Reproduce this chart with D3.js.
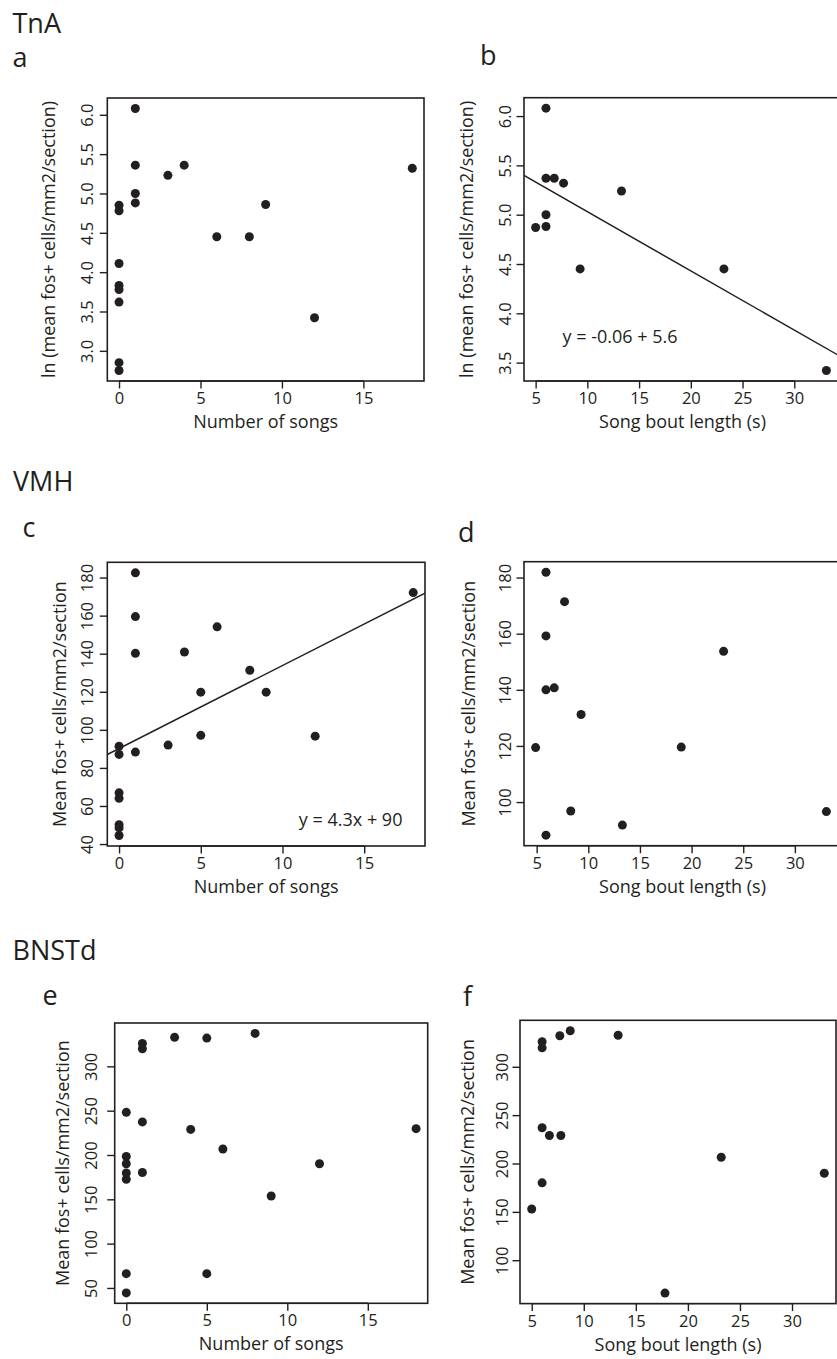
<!DOCTYPE html>
<html>
<head>
<meta charset="utf-8">
<script src="https://cdn.jsdelivr.net/npm/d3@7"></script>
<style>
  body { margin: 0; background: #fff; }
  text { font-family: "Open Sans", sans-serif; fill: #231f20; }
</style>
</head>
<body>
<div id="chart-area"></div>
<script>
// TnA
var tnaSongs = [0, 0, 0, 0, 0, 0, 0, 0, 1, 1, 1, 1, 3, 4, 6, 8, 9, 12, 18];
var tnaLnSongs = [4.85, 4.78, 4.11, 3.83, 3.78, 3.62, 2.85, 2.75, 6.08, 5.36, 5.00, 4.88, 5.23, 5.36, 4.45, 4.45, 4.86, 3.42, 5.32];
var tnaBout = [6, 6, 6.8, 7.7, 13.3, 6, 6, 5, 9.3, 23.2, 33.1];
var tnaLnBout = [6.08, 5.37, 5.37, 5.32, 5.24, 5.00, 4.88, 4.87, 4.45, 4.45, 3.42];
var tnaFit = { intercept: 5.63, slope: -0.06 };

// VMH
var vmhSongs = [0, 0, 0, 0, 0, 0, 0, 1, 1, 1, 1, 3, 4, 5, 5, 6, 8, 9, 12, 18];
var vmhFosSongs = [91.4, 87.1, 66.9, 64.0, 50.2, 48.5, 44.5, 182.5, 159.5, 140.2, 88.3, 92.0, 140.9, 119.8, 97.1, 154.1, 131.3, 119.8, 96.7, 172.1];
var vmhBout = [5.9, 7.7, 5.9, 5.9, 6.7, 9.3, 4.9, 19, 23.1, 8.3, 13.3, 5.9, 33.05];
var vmhFosBout = [181.9, 171.4, 159.2, 140.0, 140.7, 131.2, 119.4, 119.6, 153.7, 96.8, 91.8, 88.2, 96.6];
var vmhFit = { intercept: 90.2, slope: 4.36 };

// BNSTd
var bnstSongs = [0, 0, 0, 0, 0, 0, 0, 1, 1, 1, 1, 3, 4, 5, 5, 6, 8, 9, 12, 18];
var bnstFosSongs = [248.1, 198.4, 190.1, 179.7, 172.5, 66.1, 44.4, 325.9, 319.9, 237.3, 180.3, 332.7, 228.9, 331.9, 66.1, 206.8, 337.2, 153.8, 190.1, 229.7];
var bnstBout = [6, 6, 7.7, 8.7, 13.3, 6, 6.7, 7.8, 23.2, 33.1, 6, 5, 17.8];
var bnstFosBout = [325.9, 319.6, 332.1, 337.2, 332.6, 236.9, 229.0, 229.0, 206.5, 189.9, 180.0, 152.9, 66.0];

var songTicks = [0, 5, 10, 15];
var boutTicks = [5, 10, 15, 20, 25, 30];
var tnaTicks = [3.0, 3.5, 4.0, 4.5, 5.0, 5.5, 6.0];
var tnaBoutTicks = [3.5, 4.0, 4.5, 5.0, 5.5, 6.0];
var vmhTicks = [40, 60, 80, 100, 120, 140, 160, 180];
var vmhBoutTicks = [100, 120, 140, 160, 180];
var bnstTicks = [50, 100, 150, 200, 250, 300];
var bnstBoutTicks = [100, 150, 200, 250, 300];

var ink = "#231f20";

var svg = d3.select("#chart-area").append("svg")
  .attr("width", 837)
  .attr("height", 1359);

// section headings and panel letters
var heads = [
  { t: "TnA", x: 12.5, y: 32.5 }, { t: "a", x: 12.5, y: 66.5 }, { t: "b", x: 480, y: 65 },
  { t: "VMH", x: 13, y: 490.5 }, { t: "c", x: 22.5, y: 536.5 }, { t: "d", x: 458, y: 541.5 },
  { t: "BNSTd", x: 12.5, y: 960 }, { t: "e", x: 42.5, y: 1005 }, { t: "f", x: 463, y: 1006 }
];
svg.selectAll("text.head").data(heads).enter().append("text")
  .attr("class", "head")
  .attr("x", function(d) { return d.x; })
  .attr("y", function(d) { return d.y; })
  .attr("font-size", "27px")
  .text(function(d) { return d.t; });

// R style axis range: data extent padded 4%
function rRange(v) {
  var e = d3.extent(v), p = (e[1] - e[0]) * 0.04;
  return [e[0] - p, e[1] + p];
}

function panel(o) {
  var x = d3.scaleLinear().domain(rRange(o.xs)).range([o.l, o.r]);
  var y = d3.scaleLinear().domain(rRange(o.ys)).range([o.b, o.t]);
  var g = svg.append("g");

  var clipId = "clip" + o.id;
  g.append("clipPath").attr("id", clipId)
    .append("rect")
    .attr("x", o.l).attr("y", o.t)
    .attr("width", o.r - o.l).attr("height", o.b - o.t);

  // x axis
  var xa = g.append("g")
    .attr("transform", "translate(0," + o.b + ")")
    .call(d3.axisBottom(x).tickValues(o.xTicks).tickSize(7.5).tickSizeOuter(0).tickPadding(4)
      .tickFormat(d3.format("d")));
  xa.select(".domain").remove();
  xa.selectAll("line").attr("stroke", ink).attr("stroke-width", 1.4);
  xa.selectAll("text")
    .attr("font-size", "16.5px")
    .attr("font-family", "Open Sans, sans-serif")
    .attr("fill", ink)
    .attr("dy", null)
    .attr("y", 23);
  g.append("line")
    .attr("x1", x(o.xTicks[0])).attr("x2", x(o.xTicks[o.xTicks.length - 1]))
    .attr("y1", o.b).attr("y2", o.b)
    .attr("stroke", ink).attr("stroke-width", 1.4);

  // y axis
  var ya = g.append("g")
    .attr("transform", "translate(" + o.l + ",0)")
    .call(d3.axisLeft(y).tickValues(o.yTicks).tickSize(7.5).tickSizeOuter(0)
      .tickFormat(o.yFmt));
  ya.select(".domain").remove();
  ya.selectAll("line").attr("stroke", ink).attr("stroke-width", 1.4);
  ya.selectAll("text")
    .attr("font-size", "16.5px")
    .attr("font-family", "Open Sans, sans-serif")
    .attr("fill", ink)
    .attr("text-anchor", "middle")
    .attr("dy", null)
    .attr("x", null)
    .attr("transform", "translate(" + (-o.tickOff) + ",0) rotate(-90)");

  // box
  g.append("rect")
    .attr("x", o.l).attr("y", o.t)
    .attr("width", o.r - o.l).attr("height", o.b - o.t)
    .attr("fill", "none")
    .attr("stroke", ink).attr("stroke-width", 1.6);

  // fit line
  if (o.fit) {
    var d0 = x.domain();
    g.append("line")
      .attr("clip-path", "url(#" + clipId + ")")
      .attr("x1", x(d0[0])).attr("y1", y(o.fit.intercept + o.fit.slope * d0[0]))
      .attr("x2", x(d0[1])).attr("y2", y(o.fit.intercept + o.fit.slope * d0[1]))
      .attr("stroke", ink).attr("stroke-width", 1.5);
    g.append("text")
      .attr("x", x(o.eqAt[0])).attr("y", y(o.eqAt[1]))
      .attr("font-size", "18px")
      .text(o.eq);
  }

  // points
  g.selectAll("circle").data(o.xs).enter().append("circle")
    .attr("cx", function(d) { return x(d); })
    .attr("cy", function(d, i) { return y(o.ys[i]); })
    .attr("r", 4.5)
    .attr("fill", ink);

  // axis titles
  g.append("text")
    .attr("x", (o.l + Math.min(o.r, 837)) / 2 + (o.xtShift || 0))
    .attr("y", o.b + 47)
    .attr("text-anchor", "middle")
    .attr("font-size", "18px")
    .text(o.xTitle);
  g.append("text")
    .attr("transform", "translate(" + (o.l - o.titleOff) + "," + ((o.t + o.b) / 2) + ") rotate(-90)")
    .attr("text-anchor", "middle")
    .attr("font-size", "18px")
    .text(o.yTitle);
}

var fmt1 = d3.format(".1f"), fmt0 = d3.format("d");

panel({ id: "a", xs: tnaSongs, ys: tnaLnSongs, l: 107.3, r: 424, t: 98, b: 381,
  xTicks: songTicks, yTicks: tnaTicks, yFmt: fmt1, tickOff: 14, titleOff: 52,
  xTitle: "Number of songs", yTitle: "ln (mean fos+ cells/mm2/section)" });
panel({ id: "b", xs: tnaBout, ys: tnaLnBout, l: 524, r: 838, t: 97.7, b: 381,
  xTicks: boutTicks, yTicks: tnaBoutTicks, yFmt: fmt1, tickOff: 13.5, titleOff: 51,
  xTitle: "Song bout length (s)", yTitle: "ln (mean fos+ cells/mm2/section)",
  fit: tnaFit, eq: "y = -0.06 + 5.6", eqAt: [7.6, 3.70], xtShift: 2 });
panel({ id: "c", xs: vmhSongs, ys: vmhFosSongs, l: 107.3, r: 425, t: 562.3, b: 846,
  xTicks: songTicks, yTicks: vmhTicks, yFmt: fmt0, tickOff: 14, titleOff: 41,
  xTitle: "Number of songs", yTitle: "Mean fos+ cells/mm2/section",
  fit: vmhFit, eq: "y = 4.3x + 90", eqAt: [11.0, 49.7] });
panel({ id: "d", xs: vmhBout, ys: vmhFosBout, l: 524, r: 838, t: 561.7, b: 845.7,
  xTicks: boutTicks, yTicks: vmhBoutTicks, yFmt: fmt0, tickOff: 13.5, titleOff: 49,
  xTitle: "Song bout length (s)", yTitle: "Mean fos+ cells/mm2/section", xtShift: 2 });
panel({ id: "e", xs: bnstSongs, ys: bnstFosSongs, l: 114.7, r: 427.7, t: 1023, b: 1303.3,
  xTicks: songTicks, yTicks: bnstTicks, yFmt: fmt0, tickOff: 18, titleOff: 46,
  xTitle: "Number of songs", yTitle: "Mean fos+ cells/mm2/section" });
panel({ id: "f", xs: bnstBout, ys: bnstFosBout, l: 520, r: 836, t: 1020.3, b: 1303.6,
  xTicks: boutTicks, yTicks: bnstBoutTicks, yFmt: fmt0, tickOff: 12, titleOff: 46,
  xTitle: "Song bout length (s)", yTitle: "Mean fos+ cells/mm2/section" });
</script>
</body>
</html>
